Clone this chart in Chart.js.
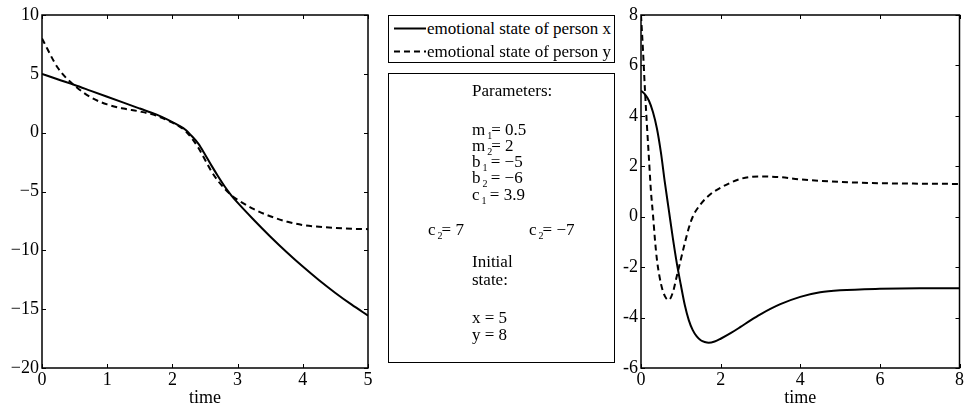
<!DOCTYPE html>
<html>
<head>
<meta charset="utf-8">
<script src="https://cdn.jsdelivr.net/npm/chart.js@4.4.1/dist/chart.umd.min.js"></script>
<style>
body { margin: 0; background: #fff; width: 965px; height: 409px; position: relative; overflow: hidden; font-family: 'Liberation Serif', 'Times New Roman', serif; color: #000; }
canvas { position: absolute; top: 0; }
#leftChart { left: 0; }
#rightChart { left: 600px; }
.box { position: absolute; border: 1px solid #000; box-sizing: border-box; background: #fff; }
.t { position: absolute; font-size: 17px; line-height: 17px; white-space: nowrap; }
sub { font-size: 10px; line-height: 0; vertical-align: -4px; margin-left: 2px; margin-right: -1px; }
</style>
</head>
<body>
<canvas id="leftChart" width="380" height="409"></canvas>
<canvas id="rightChart" width="365" height="409"></canvas>

<!-- legend -->
<div class="box" style="left:388px;top:15px;width:227px;height:48px;"></div>
<svg style="position:absolute;left:388px;top:15px" width="45" height="48">
  <line x1="6" y1="13.5" x2="38" y2="13.5" stroke="#000" stroke-width="2"/>
  <line x1="6" y1="36.5" x2="38" y2="36.5" stroke="#000" stroke-width="2" stroke-dasharray="6,4"/>
</svg>
<div class="t" style="left:427px;top:20px;">emotional state of person x</div>
<div class="t" style="left:427px;top:43px;">emotional state of person y</div>

<!-- parameters box -->
<div class="box" style="left:388px;top:73px;width:227px;height:290px;"></div>
<div class="t" style="left:472px;top:82px;">Parameters:</div>
<div class="t" style="left:472px;top:121px;">m<sub>1</sub>= 0.5</div>
<div class="t" style="left:472px;top:137px;">m<sub>2</sub>= 2</div>
<div class="t" style="left:472px;top:153px;">b<sub>1</sub> = −5</div>
<div class="t" style="left:472px;top:169px;">b<sub>2</sub> = −6</div>
<div class="t" style="left:472px;top:186px;">c<sub>1</sub> = 3.9</div>
<div class="t" style="left:428px;top:221px;">c<sub>2</sub>= 7</div>
<div class="t" style="left:529px;top:221px;">c<sub>2</sub>= −7</div>
<div class="t" style="left:472px;top:253px;">Initial</div>
<div class="t" style="left:472px;top:271px;">state:</div>
<div class="t" style="left:472px;top:309px;">x = 5</div>
<div class="t" style="left:472px;top:326px;">y = 8</div>

<script>
// left panel: time 0..5
const leftTime = [0, 0.25, 0.5, 0.75, 1, 1.25, 1.5, 1.75, 2, 2.1, 2.2, 2.3, 2.4, 2.5, 2.6, 2.7, 2.8, 2.9, 3, 3.25, 3.5, 3.75, 4, 4.25, 4.5, 4.75, 5];
const leftX = [5.0, 4.52, 4.05, 3.55, 3.05, 2.55, 2.05, 1.55, 0.9, 0.6, 0.25, -0.3, -0.95, -1.85, -2.8, -3.7, -4.55, -5.3, -5.95, -7.42, -8.82, -10.14, -11.38, -12.54, -13.62, -14.62, -15.55];
const leftY = [8.0, 5.45, 4.0, 3.0, 2.4, 2.05, 1.8, 1.45, 0.85, 0.55, 0.15, -0.5, -1.3, -2.3, -3.3, -4.1, -4.75, -5.3, -5.7, -6.5, -7.1, -7.55, -7.85, -8.0, -8.1, -8.17, -8.2];

// right panel: time 0..8
const rightTimeX = [0, 0.1, 0.2, 0.3, 0.4, 0.5, 0.6, 0.7, 0.8, 0.9, 1.0, 1.1, 1.2, 1.3, 1.4, 1.5, 1.6, 1.7, 1.85, 2.0, 2.25, 2.5, 2.75, 3, 3.5, 4, 4.5, 5, 6, 7, 8];
const rightX = [5.0, 4.85, 4.6, 4.15, 3.5, 2.55, 1.35, 0.25, -0.85, -1.85, -2.7, -3.5, -4.1, -4.5, -4.75, -4.9, -4.97, -5.0, -4.95, -4.84, -4.62, -4.37, -4.11, -3.87, -3.47, -3.18, -3.0, -2.92, -2.86, -2.84, -2.84];
const rightTimeY = [0, 0.05, 0.1, 0.15, 0.2, 0.25, 0.3, 0.35, 0.4, 0.5, 0.6, 0.7, 0.8, 0.9, 1.0, 1.1, 1.2, 1.3, 1.5, 1.75, 2, 2.5, 3, 3.5, 4, 5, 6, 7, 8];
const rightY = [8, 6.6, 5.0, 3.6, 2.3, 1.0, 0.1, -0.9, -1.7, -2.65, -3.15, -3.3, -3.0, -2.35, -1.7, -1.05, -0.45, 0.0, 0.5, 0.9, 1.15, 1.5, 1.6, 1.57, 1.48, 1.38, 1.33, 1.31, 1.3];

const font = { family: "'Liberation Serif', 'Times New Roman', serif", size: 18 };

function pts(t, v) { return t.map((x, i) => ({ x: x, y: v[i] })); }

// matlab style box with inward ticks
const frame = {
  id: 'frame',
  afterDraw(chart) {
    const { ctx, chartArea: a, scales } = chart;
    const line = (x1, y1, x2, y2) => { ctx.beginPath(); ctx.moveTo(x1, y1); ctx.lineTo(x2, y2); ctx.stroke(); };
    ctx.save();
    ctx.strokeStyle = '#000';
    ctx.lineWidth = 1;
    scales.x.ticks.forEach(t => {
      const px = Math.round(scales.x.getPixelForValue(t.value)) + 0.5;
      line(px, a.bottom, px, a.bottom - 4);
      line(px, a.top, px, a.top + 4);
    });
    scales.y.ticks.forEach(t => {
      const py = Math.round(scales.y.getPixelForValue(t.value)) + 0.5;
      line(a.left, py, a.left + 4, py);
      line(a.right, py, a.right - 4, py);
    });
    ctx.lineWidth = 1.5;
    ctx.strokeRect(a.left, a.top, a.right - a.left, a.bottom - a.top);
    ctx.restore();
  }
};

function makeChart(id, xs, ys, xt, yt, xr, yr, pad, yw, minusSign) {
  return new Chart(document.getElementById(id), {
    type: 'line',
    data: {
      datasets: [
        { label: 'emotional state of person x', data: pts(xs[0], ys[0]), borderColor: '#000', borderWidth: 2, pointRadius: 0, cubicInterpolationMode: 'monotone' },
        { label: 'emotional state of person y', data: pts(xs[1], ys[1]), borderColor: '#000', borderWidth: 2, borderDash: [6, 4], pointRadius: 0, cubicInterpolationMode: 'monotone' }
      ]
    },
    options: {
      responsive: false,
      animation: false,
      layout: { padding: pad },
      plugins: { legend: { display: false }, tooltip: { enabled: false } },
      scales: {
        x: {
          type: 'linear', min: xr[0], max: xr[1],
          grid: { display: false, drawTicks: false },
          border: { display: false },
          ticks: { stepSize: xt, color: '#000', font: font, padding: 1, maxRotation: 0 },
          title: { display: true, text: 'time', color: '#000', font: font, padding: 0 },
          afterFit(s) { s.height = 41; }
        },
        y: {
          min: yr[0], max: yr[1],
          grid: { display: false, drawTicks: false },
          border: { display: false },
          ticks: {
            stepSize: yt, color: '#000', font: font, padding: 3,
            callback: v => (minusSign && v < 0) ? '\u2212' + Math.abs(v) : String(v)
          },
          afterFit(s) { s.width = yw; }
        }
      }
    },
    plugins: [frame]
  });
}

makeChart('leftChart', [leftTime, leftTime], [leftX, leftY], 1, 5, [0, 5], [-20, 10], { top: 15, right: 12, left: 0, bottom: 0 }, 42, true);
makeChart('rightChart', [rightTimeX, rightTimeY], [rightX, rightY], 2, 2, [0, 8], [-6, 8], { top: 15, right: 3, left: 0, bottom: 0 }, 41, false);
</script>
</body>
</html>
